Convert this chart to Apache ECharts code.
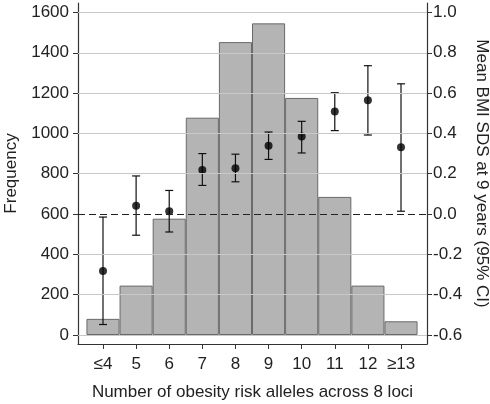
<!DOCTYPE html>
<html><head><meta charset="utf-8">
<script src="https://cdn.jsdelivr.net/npm/echarts@6/dist/echarts.min.js"></script>
<style>html,body{margin:0;padding:0;background:#fff}#c{width:490px;height:404px}</style>
</head><body><div id="c"></div>
<script>
const categories = ['≤4','5','6','7','8','9','10','11','12','≥13'];
const frequency = [80, 245, 577, 1078, 1453, 1546, 1176, 685, 245, 68];
const meanBMI = [-0.283, 0.041, 0.014, 0.218, 0.227, 0.339, 0.385, 0.509, 0.565, 0.331];
const ciLower = [-0.548, -0.105, -0.089, 0.142, 0.160, 0.271, 0.303, 0.414, 0.392, 0.014];
const ciUpper = [-0.015, 0.189, 0.117, 0.300, 0.297, 0.407, 0.460, 0.602, 0.736, 0.646];
const leftTicks = [0, 200, 400, 600, 800, 1000, 1200, 1400, 1600];
const rightTicks = [-0.6, -0.4, -0.2, 0.0, 0.2, 0.4, 0.6, 0.8, 1.0];
const xTicks = categories.map((c, i) => i);

const font = 'Liberation Sans, Arial, sans-serif';
const axisColor = '#333';
const fs = 17;
const chart = echarts.init(document.getElementById('c'));
chart.setOption({
  animation: false,
  grid: {left: 78, right: 63, top: 3, bottom: 60, containLabel: false, outerBoundsMode: 'none'},
  xAxis: {
    type: 'value', min: -0.755, max: 9.785,
    name: 'Number of obesity risk alleles across 8 loci', nameLocation: 'middle', nameGap: 40,
    nameTextStyle: {fontFamily: font, fontSize: fs, color: '#222'},
    axisLine: {show: true, onZero: false, lineStyle: {color: axisColor, width: 1.2}},
    axisTick: {show: true, length: 5, customValues: xTicks, lineStyle: {color: axisColor}},
    axisLabel: {customValues: xTicks, formatter: v => categories[Math.round(v)] || '', fontFamily: font, fontSize: fs, color: '#222', margin: 12},
    splitLine: {show: false}
  },
  yAxis: [{
    type: 'value', min: -44.65, max: 1647, position: 'left',
    name: 'Frequency', nameLocation: 'middle', nameGap: 57, nameRotate: 90,
    nameTextStyle: {fontFamily: font, fontSize: fs, color: '#222'},
    axisLine: {show: true, onZero: false, lineStyle: {color: axisColor, width: 1.2}},
    axisTick: {show: true, length: 5, customValues: leftTicks, lineStyle: {color: axisColor}},
    axisLabel: {customValues: leftTicks, formatter: v => String(v), fontFamily: font, fontSize: fs, color: '#222', margin: 9},
    splitLine: {show: false}
  }, {
    type: 'value', min: -0.6447, max: 1.047, position: 'right',
    name: 'Mean BMI SDS at 9 years (95% CI)', nameLocation: 'middle', nameGap: 45, nameRotate: -90,
    nameTextStyle: {fontFamily: font, fontSize: fs, color: '#222'},
    axisLine: {show: true, onZero: false, lineStyle: {color: axisColor, width: 1.2}},
    axisTick: {show: true, length: 5, customValues: rightTicks, lineStyle: {color: axisColor}},
    axisLabel: {customValues: rightTicks, formatter: v => v.toFixed(1), fontFamily: font, fontSize: fs, color: '#222', margin: 6},
    splitLine: {show: false}
  }],
  series: [{
    type: 'scatter', data: [], yAxisIndex: 0, z: 1, silent: true,
    markLine: {
      symbol: 'none', silent: true, label: {show: false}, animation: false,
      data: leftTicks.filter(t => t !== 600).map(t => ({yAxis: t, lineStyle: {color: '#c8c8c8', width: 1, type: 'solid'}}))
        .concat([{yAxis: 600, lineStyle: {color: '#222', width: 1.2, type: [7, 4]}}])
    }
  }, {
    type: 'bar', yAxisIndex: 0, z: 2, barWidth: 33.1,
    data: frequency.map((v, i) => [i, v]),
    itemStyle: {color: '#b4b4b4', borderColor: '#6a6a6a', borderWidth: 1}
  }, {
    type: 'custom', yAxisIndex: 1, z: 3,
    data: meanBMI.map((v, i) => [i, ciLower[i], ciUpper[i]]),
    renderItem: (params, api) => {
      const x = api.value(0);
      const lo = api.coord([x, api.value(1)]);
      const hi = api.coord([x, api.value(2)]);
      const hw = 4;
      const st = {stroke: '#111', lineWidth: 1.2};
      return {type: 'group', children: [
        {type: 'line', shape: {x1: lo[0], y1: lo[1], x2: hi[0], y2: hi[1]}, style: st},
        {type: 'line', shape: {x1: lo[0]-hw, y1: lo[1], x2: lo[0]+hw, y2: lo[1]}, style: st},
        {type: 'line', shape: {x1: hi[0]-hw, y1: hi[1], x2: hi[0]+hw, y2: hi[1]}, style: st}
      ]};
    }
  }, {
    type: 'scatter', yAxisIndex: 1, z: 4, symbolSize: 8,
    data: meanBMI.map((v, i) => [i, v]),
    itemStyle: {color: '#000'}
  }]
});
</script></body></html>
